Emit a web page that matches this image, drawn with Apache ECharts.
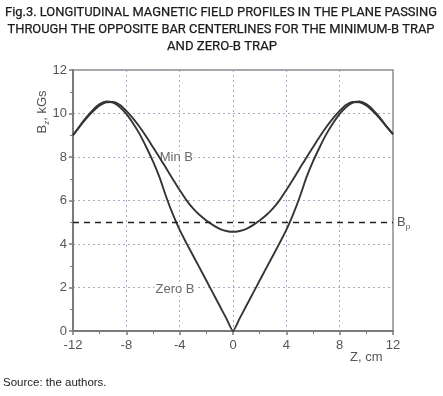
<!DOCTYPE html>
<html><head><meta charset="utf-8">
<script src="https://cdn.jsdelivr.net/npm/echarts@6/dist/echarts.min.js"></script>
<style>html,body{margin:0;padding:0;background:#fff}#c{width:443px;height:396px}</style>
</head><body><div id="c"></div>
<script>
// ---- data ----
const zPos = [-12,-11.5,-11,-10.5,-10,-9.5,-9,-8.5,-8,-7.5,-7,-6.5,-6,-5.5,-5,-4.5,-4,-3.5,-3,-2.5,-2,-1.5,-1,-0.5,0,
              0.5,1,1.5,2,2.5,3,3.5,4,4.5,5,5.5,6,6.5,7,7.5,8,8.5,9,9.5,10,10.5,11,11.5,12];
const minB = [9.0,9.4,9.78,10.1,10.37,10.52,10.53,10.4,10.12,9.78,9.38,8.93,8.45,7.97,7.47,6.97,6.48,6.02,5.64,5.33,5.08,4.87,4.7,4.6,4.56,
              4.6,4.7,4.87,5.08,5.33,5.64,6.02,6.48,6.97,7.47,7.97,8.45,8.93,9.38,9.78,10.12,10.4,10.53,10.52,10.37,10.1,9.78,9.4,9.05];
const zeroB = [9.0,9.42,9.82,10.17,10.43,10.55,10.5,10.3,9.98,9.55,9.05,8.45,7.8,7.05,6.15,5.35,4.65,4.05,3.47,2.9,2.32,1.74,1.16,0.58,0,
               0.58,1.16,1.74,2.32,2.9,3.47,4.05,4.65,5.35,6.15,7.05,7.8,8.45,9.05,9.55,9.98,10.3,10.5,10.55,10.43,10.17,9.82,9.42,9.05];
const Bp = 5;
const curveLabels = [{name:'Min B', z:-4.25, b:8.0}, {name:'Zero B', z:-4.35, b:1.9}];
const xTicks = {min:-12, max:12, interval:4};
const yTicks = {min:0, max:12, interval:2};
const titleLines = ['Fig.3. LONGITUDINAL MAGNETIC FIELD PROFILES IN THE PLANE PASSING',
                    'THROUGH THE OPPOSITE BAR CENTERLINES FOR THE MINIMUM-B TRAP',
                    'AND ZERO-B TRAP'];
const sourceText = 'Source: the authors.';

const pair = (xs, ys) => xs.map((x,i)=>[x, ys[i]]);

// fit title widths
const titleFont = '13px Roboto';
const cv = document.createElement('canvas').getContext('2d');
cv.font = titleFont;
const targetW = [432, 427, 110];
const titleCenters = [221, 221, 222];
const titleY = [13, 30, 47];
const titleGraphics = titleLines.map((t,i)=>{
  const w = cv.measureText(t).width;
  return {type:'text', x:titleCenters[i], y:titleY[i], scaleX: targetW[i]/w,
    style:{text:t, font:titleFont, fill:'#1a1a1a', stroke:'#1a1a1a', lineWidth:0.25, textAlign:'center', textVerticalAlign:'middle'}};
});

const chart = echarts.init(document.getElementById('c'), null, {renderer:'canvas'});
const lineCol = '#353535';
const lblFont = {color:'#555', fontSize:13, fontFamily:'Liberation Sans'};
chart.setOption({
  animation:false,
  grid:{left:73, right:50, top:70, bottom:65, show:true, borderColor:'#8a8a8a', borderWidth:1.5, backgroundColor:'transparent'},
  xAxis:{type:'value', min:xTicks.min, max:xTicks.max, interval:xTicks.interval,
    axisLine:{show:true, onZero:false, lineStyle:{color:'#7a7a7a', width:2}},
    axisTick:{show:true, length:4, lineStyle:{color:'#7a7a7a', width:1.5}},
    minorTick:{show:true, splitNumber:2, length:3, lineStyle:{color:'#7a7a7a'}},
    axisLabel:Object.assign({margin:8}, lblFont),
    splitLine:{show:true, lineStyle:{color:'#a9a9c4', type:[2,3], width:1}}},
  yAxis:{type:'value', min:yTicks.min, max:yTicks.max, interval:yTicks.interval,
    axisLine:{show:true, onZero:false, lineStyle:{color:'#7a7a7a', width:2}},
    axisTick:{show:true, length:4, lineStyle:{color:'#7a7a7a', width:1.5}},
    minorTick:{show:true, splitNumber:2, length:3, lineStyle:{color:'#7a7a7a'}},
    axisLabel:Object.assign({margin:6}, lblFont),
    splitLine:{show:true, lineStyle:{color:'#a9a9c4', type:[2,3], width:1}}},
  series:[
    {type:'line', name:'Min B', data:pair(zPos,minB), smooth:0.3, symbol:'none',
     lineStyle:{color:lineCol, width:1.9},
     markLine:{silent:true, symbol:['none','none'],
       lineStyle:{color:'#222', type:[6,5], width:1.4},
       label:{show:true, position:'end', distance:4,
         formatter:'{b|B}{s|p}', rich:{b:{fontSize:13, color:'#555', fontFamily:'Liberation Sans'}, s:{fontSize:8, color:'#555', padding:[9,0,0,0], fontFamily:'Liberation Sans'}}},
       data:[{yAxis:Bp}]}},
    {type:'line', name:'Zero B', data:pair(zPos,zeroB), smooth:0.2, symbol:'none',
     lineStyle:{color:lineCol, width:1.9}},
    {type:'scatter', data:curveLabels.map(d=>({value:[d.z,d.b], name:d.name})), symbolSize:0,
     label:{show:true, position:'inside', formatter:'{b}', color:'#444', fontSize:13, fontFamily:'Liberation Sans',
       backgroundColor:'#fff', padding:[0,1]}}
  ],
  graphic:[
    ...titleGraphics,
    {type:'text', x:42, y:112, rotation:Math.PI/2,
      style:{text:'{b|B}{s|z}{b|, kGs}', textAlign:'center', textVerticalAlign:'middle',
        rich:{b:{fontSize:13, fill:'#555', fontFamily:'Liberation Sans'}, s:{fontSize:8, fill:'#555', fontFamily:'Liberation Sans', padding:[9,0,0,0]}}}},
    {type:'text', x:350, y:357, style:{text:'Z, cm', font:'13px Liberation Sans', fill:'#555', textVerticalAlign:'middle'}},
    {type:'text', x:3, y:383, style:{text:sourceText, font:'11.5px Liberation Sans', fill:'#222', textVerticalAlign:'middle'}}
  ]
});
</script></body></html>
